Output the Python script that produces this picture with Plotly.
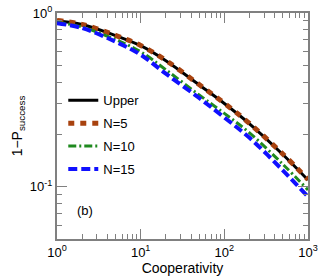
import plotly.graph_objects as go

cooperativity = [1, 2, 5, 10, 20, 50, 100, 200, 500, 1000]
upper = [0.903, 0.858, 0.741, 0.648, 0.531, 0.385, 0.301, 0.230, 0.153, 0.109]
n5 = [0.905, 0.860, 0.743, 0.650, 0.533, 0.387, 0.302, 0.231, 0.154, 0.110]
n10 = [0.885, 0.830, 0.703, 0.598, 0.471, 0.337, 0.264, 0.204, 0.1345, 0.0957]
n15 = [0.873, 0.819, 0.684, 0.575, 0.447, 0.324, 0.250, 0.191, 0.124, 0.0873]

x_tickvals = [1, 10, 100, 1000]
x_ticktext = ["10<sup>0</sup>", "10<sup>1</sup>", "10<sup>2</sup>", "10<sup>3</sup>"]
y_tickvals = [0.1, 1]
y_ticktext = ["10<sup>-1</sup>", "10<sup>0</sup>"]

x_minor = [m * d for d in (1, 10, 100) for m in range(2, 10)]
y_minor = [0.06, 0.07, 0.08, 0.09, 0.2, 0.3, 0.4, 0.5, 0.6, 0.7, 0.8, 0.9]

FONT = "Liberation Sans, Arial"

fig = go.Figure()
fig.add_trace(go.Scatter(x=cooperativity, y=upper, mode="lines", name="Upper",
                         legendgroup="a", line=dict(color="black", width=3), line_shape="spline"))
fig.add_trace(go.Scatter(x=cooperativity, y=n5, mode="lines", name="N=5",
                         legendgroup="b", line=dict(color="#a8420f", width=5, dash="6px,6px"), line_shape="spline"))
fig.add_trace(go.Scatter(x=cooperativity, y=n10, mode="lines", name="N=10",
                         legendgroup="c", line=dict(color="#1f8a1f", width=3, dash="8px,3px,2px,3px"), line_shape="spline"))
fig.add_trace(go.Scatter(x=cooperativity, y=n15, mode="lines", name="N=15",
                         legendgroup="d", line=dict(color="#1010ff", width=4, dash="9px,4px"), line_shape="spline"))

axis_common = dict(
    showline=True, linecolor="#808080", linewidth=2, mirror="allticks",
    ticks="inside", ticklen=10, tickcolor="#808080", tickwidth=1,
    showgrid=False, zeroline=False, automargin=False, ticklabeloverflow="allow",
    tickfont=dict(family=FONT, size=13, color="black"),
)

fig.update_xaxes(type="log", range=[0, 3], tickmode="array", tickvals=x_tickvals, ticktext=x_ticktext,
                 minor=dict(ticks="inside", ticklen=5, tickcolor="#808080", tickvals=x_minor, showgrid=False),
                 title=dict(text="Cooperativity", font=dict(family=FONT, size=14, color="black"), standoff=0),
                 **axis_common)
fig.update_yaxes(type="log", range=[-1.302, 0], tickmode="array", tickvals=y_tickvals, ticktext=y_ticktext,
                 minor=dict(ticks="inside", ticklen=5, tickcolor="#808080", tickvals=y_minor, showgrid=False),
                 title=dict(text="1−P<sub>success</sub>", font=dict(family=FONT, size=14, color="black"), standoff=4),
                 **axis_common)

fig.add_annotation(text="(b)", xref="paper", yref="paper", x=0.07, y=0.125, showarrow=False,
                   xanchor="left", yanchor="middle",
                   font=dict(family=FONT, size=13, color="black"))

fig.update_layout(
    width=324, height=279,
    margin=dict(l=57, r=16, t=13, b=40),
    plot_bgcolor="white", paper_bgcolor="white",
    legend=dict(x=0.025, y=0.68, xanchor="left", yanchor="top", bgcolor="rgba(0,0,0,0)",
                font=dict(family=FONT, size=13, color="black"),
                tracegroupgap=3, traceorder="grouped"),
    font=dict(family=FONT),
)

fig.write_html("out.html", config={"displayModeBar": False},
               post_script="document.body.style.margin='0px';")
